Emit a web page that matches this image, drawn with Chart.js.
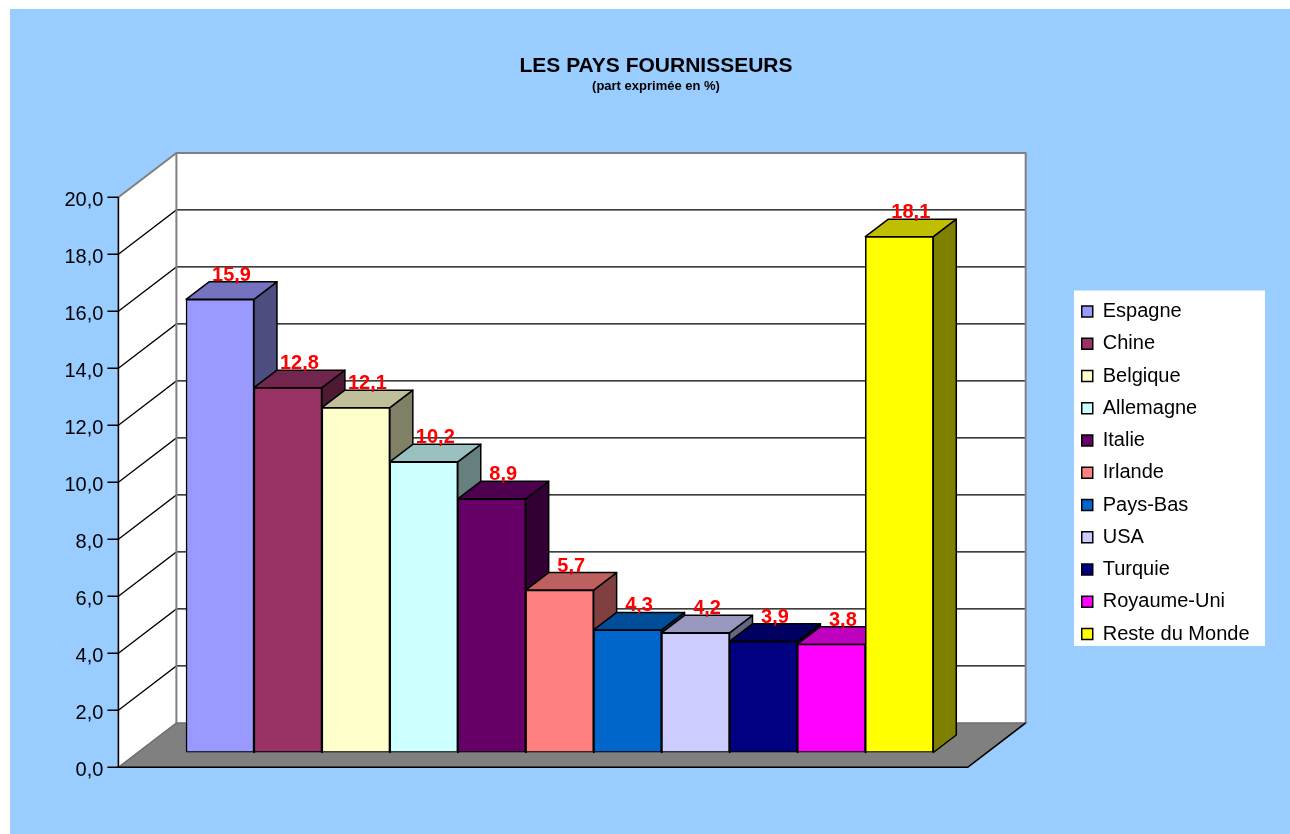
<!DOCTYPE html>
<html>
<head>
<meta charset="utf-8">
<script src="https://cdn.jsdelivr.net/npm/chart.js@4/dist/chart.umd.min.js"></script>
<style>
  html, body { margin: 0; padding: 0; background: #ffffff; }
</style>
</head>
<body>
<canvas id="myChart" width="1290" height="834"></canvas>
<script>
// data
const countries = ['Espagne', 'Chine', 'Belgique', 'Allemagne', 'Italie', 'Irlande',
                   'Pays-Bas', 'USA', 'Turquie', 'Royaume-Uni', 'Reste du Monde'];
const shares = [15.9, 12.8, 12.1, 10.2, 8.9, 5.7, 4.3, 4.2, 3.9, 3.8, 18.1];
const yMax = 20;
const yStep = 2;

// styles
const barColors = ['#9999FF', '#993366', '#FFFFCC', '#CCFFFF', '#660066', '#FF8080',
                   '#0066CC', '#CCCCFF', '#000080', '#FF00FF', '#FFFF00'];
const FONT = 'Arial, "Liberation Sans", sans-serif';

// 3d offsets (pixels) relative to the plane of the bar fronts
const D3 = {
    front: { dx: -19, dy: 14.8 },
    back: { dx: 39, dy: -29.6 },
    depth: { dx: 23, dy: -17.5 }
};
const WALL_END = 11.286; // x value where floor / back wall stop

const fmt = v => v.toFixed(1).replace('.', ',');

function shade(hex, f) {
    const n = parseInt(hex.slice(1), 16);
    const r = Math.round(((n >> 16) & 255) * f);
    const g = Math.round(((n >> 8) & 255) * f);
    const b = Math.round((n & 255) * f);
    return 'rgb(' + r + ',' + g + ',' + b + ')';
}

function poly(ctx, pts, fill, stroke) {
    ctx.beginPath();
    ctx.moveTo(pts[0][0], pts[0][1]);
    for (let i = 1; i < pts.length; i++) ctx.lineTo(pts[i][0], pts[i][1]);
    ctx.closePath();
    if (fill) { ctx.fillStyle = fill; ctx.fill(); }
    if (stroke) { ctx.strokeStyle = stroke; ctx.stroke(); }
}

const box3d = {
    id: 'box3d',
    beforeDraw(chart) {
        const ctx = chart.ctx;
        ctx.save();
        ctx.fillStyle = '#ffffff';
        ctx.fillRect(0, 0, chart.width, chart.height);
        ctx.fillStyle = '#99CCFF';
        ctx.fillRect(10, 9, chart.width - 10, chart.height - 9);

        // white panel behind the legend
        const hb = chart.legend.legendHitBoxes;
        if (hb && hb.length) {
            const left = hb[0].left - 7.75;
            const right = Math.max(...hb.map(h => h.left + h.width)) + 15.5;
            const top = hb[0].top - 11;
            const last = hb[hb.length - 1];
            const bottom = last.top + last.height + 2;
            ctx.fillStyle = '#ffffff';
            ctx.fillRect(left, top, right - left, bottom - top);
        }
        ctx.restore();
    },
    beforeDatasetsDraw(chart) {
        const { ctx, chartArea, scales: { x, y } } = chart;
        const f = D3.front, b = D3.back, d = D3.depth;
        const xl = chartArea.left;
        const xr = x.getPixelForValue(WALL_END);
        const y0 = y.getPixelForValue(0);
        const yT = y.getPixelForValue(y.max);
        ctx.save();

        // left + back walls
        poly(ctx, [[xl + f.dx, y0 + f.dy], [xl + f.dx, yT + f.dy], [xl + b.dx, yT + b.dy],
                   [xr + b.dx, yT + b.dy], [xr + b.dx, y0 + b.dy], [xl + b.dx, y0 + b.dy]], '#ffffff');

        // grid lines on the walls
        ctx.strokeStyle = '#000000';
        ctx.lineWidth = 1.3;
        y.ticks.forEach(t => {
            if (t.value <= 0 || t.value >= y.max) return;
            const py = y.getPixelForValue(t.value);
            ctx.beginPath();
            ctx.moveTo(xl + f.dx, py + f.dy);
            ctx.lineTo(xl + b.dx, py + b.dy);
            ctx.lineTo(xr + b.dx, py + b.dy);
            ctx.stroke();
        });

        // wall outline
        ctx.strokeStyle = '#808080';
        ctx.lineWidth = 2;
        ctx.beginPath();
        ctx.moveTo(xl + f.dx, yT + f.dy);
        ctx.lineTo(xl + b.dx, yT + b.dy);
        ctx.lineTo(xr + b.dx, yT + b.dy);
        ctx.lineTo(xr + b.dx, y0 + b.dy);
        ctx.moveTo(xl + b.dx, yT + b.dy);
        ctx.lineTo(xl + b.dx, y0 + b.dy);
        ctx.stroke();

        // floor
        ctx.lineWidth = 1.5;
        poly(ctx, [[xl + f.dx, y0 + f.dy], [xl + b.dx, y0 + b.dy],
                   [xr + b.dx, y0 + b.dy], [xr + f.dx, y0 + f.dy]], '#808080', '#6e6e6e');
        ctx.strokeStyle = '#000000';
        ctx.beginPath();
        ctx.moveTo(xl + f.dx, y0 + f.dy);
        ctx.lineTo(xr + f.dx, y0 + f.dy);
        ctx.lineTo(xr + b.dx, y0 + b.dy);
        ctx.stroke();

        // front value axis with tick marks
        ctx.lineWidth = 1.6;
        ctx.beginPath();
        ctx.moveTo(xl + f.dx, yT + f.dy);
        ctx.lineTo(xl + f.dx, y0 + f.dy);
        y.ticks.forEach(t => {
            const py = y.getPixelForValue(t.value) + f.dy;
            ctx.moveTo(xl + f.dx - 11, py);
            ctx.lineTo(xl + f.dx, py);
        });
        ctx.stroke();

        // side and top faces of the bars (fronts are drawn by Chart.js on top)
        ctx.lineWidth = 1.5;
        ctx.lineJoin = 'round';
        const meta = chart.getDatasetMeta(0);
        meta.data.forEach((bar, i) => {
            const p = bar.getProps(['x', 'y', 'base', 'width'], true);
            const l = p.x - p.width / 2, r = p.x + p.width / 2;
            poly(ctx, [[r, p.y], [r + d.dx, p.y + d.dy], [r + d.dx, p.base + d.dy], [r, p.base]],
                 shade(barColors[i], 0.5), '#000000');
            poly(ctx, [[l, p.y], [l + d.dx, p.y + d.dy], [r + d.dx, p.y + d.dy], [r, p.y]],
                 shade(barColors[i], 0.75), '#000000');
        });
        ctx.restore();
    },
    afterDatasetsDraw(chart) {
        const ctx = chart.ctx;
        const meta = chart.getDatasetMeta(0);
        ctx.save();
        ctx.font = 'bold 20px ' + FONT;
        ctx.fillStyle = '#FF0000';
        ctx.textAlign = 'center';
        ctx.textBaseline = 'alphabetic';
        meta.data.forEach((bar, i) => {
            ctx.fillText(fmt(shares[i]), bar.x + D3.depth.dx / 2, bar.y - 18.5);
        });
        ctx.restore();
    }
};

Chart.defaults.font.family = FONT;
Chart.defaults.color = '#000000';

const config = {
    type: 'bar',
    data: {
        datasets: [{
            label: 'Part (%)',
            data: shares.map((v, i) => ({ x: i, y: v })),
            backgroundColor: barColors,
            borderColor: '#000000',
            borderWidth: 1.5,
            borderSkipped: false,
            barThickness: 'flex',
            categoryPercentage: 1,
            barPercentage: 1
        }]
    },
    options: {
        responsive: false,
        animation: false,
        devicePixelRatio: 1,
        layout: { padding: { left: 52.5, right: 30.5, top: 9, bottom: 81.5 } },
        scales: {
            x: { type: 'linear', min: -1.216, max: 12.505, offset: false, display: false },
            y: {
                min: 0,
                max: yMax,
                ticks: {
                    stepSize: yStep,
                    padding: 34,
                    labelOffset: 18,
                    color: '#000000',
                    font: { size: 20 },
                    callback: v => fmt(v)
                },
                grid: { display: false, drawTicks: false },
                border: { display: false },
                afterFit: axis => { axis.width = 84.9; }
            }
        },
        plugins: {
            title: {
                display: true,
                text: 'LES PAYS FOURNISSEURS',
                color: '#000000',
                font: { size: 21, weight: 'bold' },
                padding: { top: 44.4, bottom: 0 }
            },
            subtitle: {
                display: true,
                text: '(part exprimée en %)',
                color: '#000000',
                font: { size: 13, weight: 'bold' },
                padding: { top: 0, bottom: 88.3 }
            },
            legend: {
                position: 'right',
                align: 'center',
                fullSize: false,
                onClick: () => {},
                title: { display: true, text: '', font: { size: 8.75 }, padding: 0 },
                labels: {
                    boxWidth: 11,
                    boxHeight: 11,
                    padding: 12.25,
                    color: '#000000',
                    font: { size: 20 },
                    generateLabels: () => countries.map((c, i) => ({
                        text: c,
                        fillStyle: barColors[i],
                        strokeStyle: '#000000',
                        lineWidth: 1.5,
                        hidden: false,
                        index: i
                    }))
                }
            },
            tooltip: { enabled: false }
        }
    },
    plugins: [box3d]
};

const chart = new Chart(document.getElementById('myChart').getContext('2d'), config);
</script>
</body>
</html>
